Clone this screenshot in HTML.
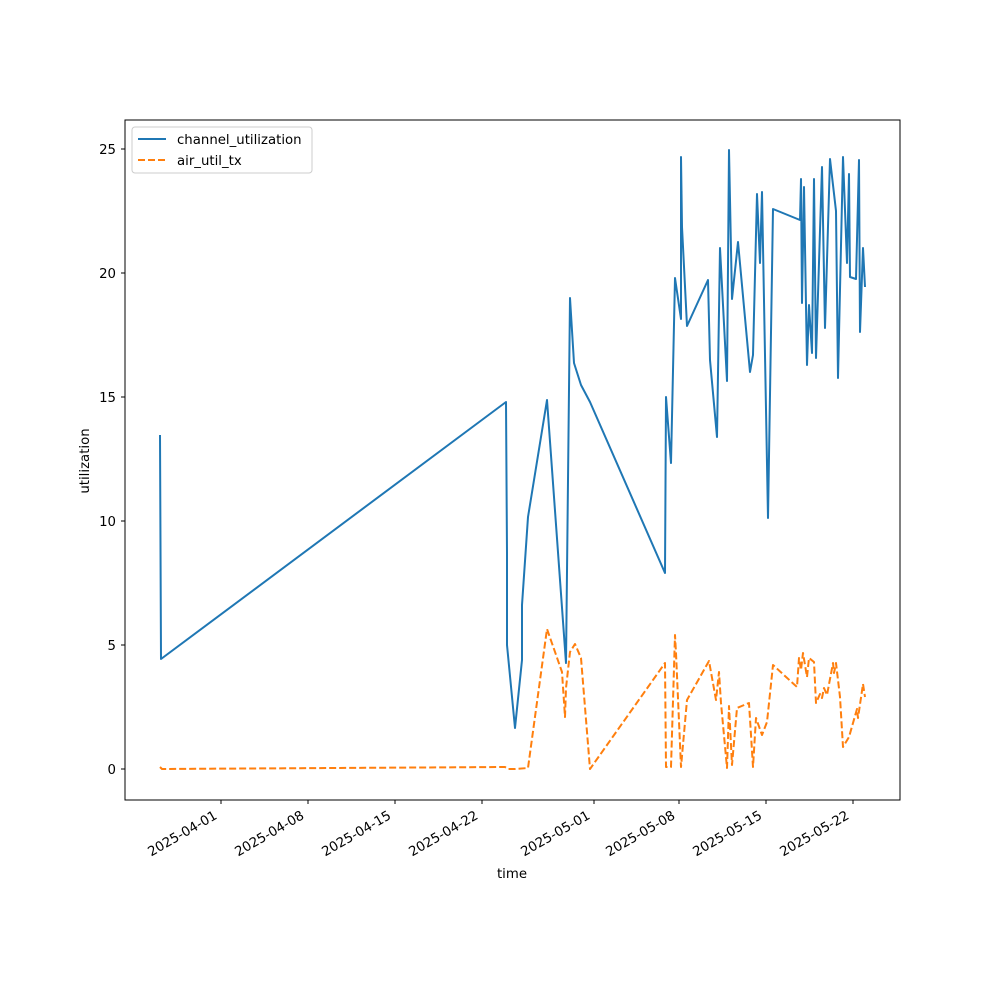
<!DOCTYPE html>
<html><head><meta charset="utf-8"><style>body{margin:0;background:#fff}svg{display:block}text{font-family:"DejaVu Sans","Liberation Sans",sans-serif;font-size:13.3px;fill:#000}</style></head>
<body><svg width="1000" height="1000" viewBox="0 0 1000 1000">
<rect x="125" y="120" width="775" height="680" fill="none" stroke="#000" stroke-width="1"/>
<g stroke="#000" stroke-width="1">
<line x1="125" y1="769" x2="121" y2="769"/><line x1="125" y1="645" x2="121" y2="645"/><line x1="125" y1="521" x2="121" y2="521"/><line x1="125" y1="397" x2="121" y2="397"/><line x1="125" y1="273" x2="121" y2="273"/><line x1="125" y1="149" x2="121" y2="149"/>
<line x1="221" y1="800" x2="221" y2="804"/><line x1="308" y1="800" x2="308" y2="804"/><line x1="395" y1="800" x2="395" y2="804"/><line x1="482" y1="800" x2="482" y2="804"/><line x1="594" y1="800" x2="594" y2="804"/><line x1="679" y1="800" x2="679" y2="804"/><line x1="766" y1="800" x2="766" y2="804"/><line x1="853" y1="800" x2="853" y2="804"/>
</g>
<g text-anchor="end">
<text x="116" y="774">0</text><text x="116" y="650">5</text><text x="116" y="526">10</text><text x="116" y="402">15</text><text x="116" y="278">20</text><text x="116" y="154">25</text>
<text transform="translate(218,818) rotate(-30)">2025-04-01</text>
<text transform="translate(305,818) rotate(-30)">2025-04-08</text>
<text transform="translate(392,818) rotate(-30)">2025-04-15</text>
<text transform="translate(479,818) rotate(-30)">2025-04-22</text>
<text transform="translate(591,818) rotate(-30)">2025-05-01</text>
<text transform="translate(676,818) rotate(-30)">2025-05-08</text>
<text transform="translate(763,818) rotate(-30)">2025-05-15</text>
<text transform="translate(850,818) rotate(-30)">2025-05-22</text>
</g>
<text x="512" y="878" text-anchor="middle">time</text>
<text transform="translate(89,461) rotate(-90)" text-anchor="middle">utilization</text>
<polyline fill="none" stroke="#1f77b4" stroke-width="2" stroke-linejoin="round" points="160,435 161,659 506,402 507,553 507,645 515,728 522,660 522,605 528,517 547,400 566,663 570,298 574,363 581,385 590,402 665,573 666,397 671,463 675,278 681,319 681,157 682,227 687,326 708,280 710,360 717,437 720,248 727,381 729,150 732,299 738,242 750,372 753,355 757,194 760,263 762,192 768,518 773,209 800,220 801,179 802,303 804,187 807,365 809,305 812,353 814,179 816,358 822,167 825,328 830,159 836,211 838,378 843,157 847,263 849,174 850,277 856,279 859,160 860,332 863,248 865,287"/>
<polyline fill="none" stroke="#ff7f0e" stroke-width="2" stroke-dasharray="7,3" stroke-linejoin="round" points="160,767 162,769 505,767 508,769 515,769 528,768 547,629 562,672 565,717 566,688 570,652 575,644 581,658 590,769 665,663 666,767 671,767 675,635 676,653 681,767 687,700 709,661 716,700 719,672 721,703 727,768 729,706 732,765 737,708 749,703 753,767 756,718 762,735 767,722 773,665 797,687 799,658 801,670 803,653 807,677 809,658 814,662 816,703 820,694 822,698 824,688 827,695 833,663 834,673 836,663 840,697 843,747 849,737 857,709 858,718 863,684 865,697"/>
<rect x="132" y="127" width="180" height="46" rx="3" fill="#fff" stroke="#ccc"/>
<line x1="138" y1="139" x2="166" y2="139" stroke="#1f77b4" stroke-width="2"/>
<line x1="138" y1="160" x2="166" y2="160" stroke="#ff7f0e" stroke-width="2" stroke-dasharray="7,3"/>
<text x="177" y="144">channel_utilization</text>
<text x="177" y="165">air_util_tx</text>
</svg></body></html>
